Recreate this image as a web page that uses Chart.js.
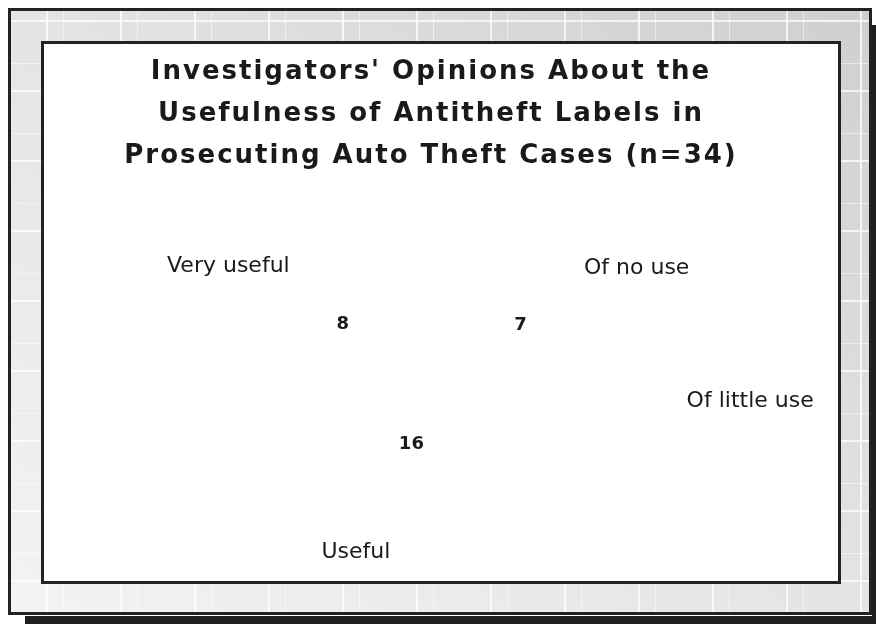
<!DOCTYPE html>
<html>
<head>
<meta charset="utf-8">
<script src="https://cdn.jsdelivr.net/npm/chart.js@4/dist/chart.umd.min.js"></script>
<style>
  html, body { margin: 0; padding: 0; background: #ffffff; }
  body { width: 876px; height: 624px; position: relative; overflow: hidden; }
  .shadowR { position: absolute; left: 872px; top: 25px; width: 4px; height: 599px; background: #1e1e1e; }
  .shadowB { position: absolute; left: 25px; top: 616px; width: 851px; height: 8px; background: #1e1e1e; }
  .frame {
    position: absolute; left: 8px; top: 8px; width: 858px; height: 601px;
    border: 3px solid #222;
    background:
      repeating-linear-gradient(90deg, rgba(255,255,255,0) 0 35px, rgba(255,255,255,0.75) 35px 37px, rgba(255,255,255,0) 37px 52px, rgba(255,255,255,0.5) 52px 53px, rgba(255,255,255,0) 53px 74px),
      repeating-linear-gradient(0deg, rgba(255,255,255,0) 0 30px, rgba(255,255,255,0.75) 30px 32px, rgba(255,255,255,0) 32px 58px, rgba(255,255,255,0.5) 58px 59px, rgba(255,255,255,0) 59px 70px),
      linear-gradient(to top right, #f3f3f3 0%, #e4e4e4 50%, #cfcfcf 100%);
  }
  .inner {
    position: absolute; left: 41px; top: 41px; width: 794px; height: 537px;
    border: 3px solid #222; background: #ffffff;
  }
  canvas { display: block; }
</style>
</head>
<body>
<div class="shadowR"></div>
<div class="shadowB"></div>
<div class="frame"></div>
<div class="inner"><canvas id="c" width="794" height="537"></canvas></div>
<script>
// ---- data ----
const titleLines = [
  "Investigators' Opinions About the",
  "Usefulness of Antitheft Labels in",
  "Prosecuting Auto Theft Cases (n=34)"
];
const categories = ["Of no use", "Of little use", "Useful", "Very useful"];
const counts = [7, 3, 16, 8];
const valueShown = [true, false, true, true];

// ---- label placement styles (relative to slice geometry) ----
const catRadiusX = 1.70, catRadiusY = 0.87;
const valRadiusX = 0.74, valRadiusY = 0.47;
const valRadiusScale = [1, 1, 0.6, 1];
const inkColor = '#1a1a1a';

const sliceLabels = {
  id: 'sliceLabels',
  beforeDraw(chart) { chart.ctx.letterSpacing = '2px'; },
  afterDatasetsDraw(chart) {
    const ctx = chart.ctx;
    ctx.save();
    ctx.letterSpacing = '0px';
    ctx.fillStyle = inkColor;
    ctx.textAlign = 'center';
    ctx.textBaseline = 'middle';
    const meta = chart.getDatasetMeta(0);
    meta.data.forEach((arc, i) => {
      const p = arc.getProps(['x', 'y', 'startAngle', 'endAngle', 'outerRadius'], true);
      const mid = (p.startAngle + p.endAngle) / 2;
      const R = p.outerRadius;
      ctx.font = '22px "DejaVu Sans"';
      ctx.fillText(categories[i], p.x + Math.cos(mid) * R * catRadiusX, p.y + Math.sin(mid) * R * catRadiusY);
      if (valueShown[i]) {
        const k = valRadiusScale[i];
        ctx.font = 'bold 18px "DejaVu Sans"';
        ctx.fillText(String(counts[i]), p.x + Math.cos(mid) * R * valRadiusX * k, p.y + Math.sin(mid) * R * valRadiusY * k);
      }
    });
    ctx.restore();
  },
  afterDraw(chart) { chart.ctx.letterSpacing = '0px'; }
};

new Chart(document.getElementById('c'), {
  type: 'pie',
  data: {
    labels: categories,
    datasets: [{
      data: counts,
      backgroundColor: '#ffffff',
      borderWidth: 0
    }]
  },
  options: {
    responsive: false,
    animation: false,
    rotation: 3,
    layout: { padding: { left: 0, right: 20, top: 0, bottom: 0 } },
    plugins: {
      legend: { display: false },
      tooltip: { enabled: false },
      title: {
        display: true,
        text: titleLines,
        color: inkColor,
        font: { family: '"DejaVu Sans"', size: 26, weight: 'bold', lineHeight: '42px' },
        padding: { top: 7, bottom: 28 }
      }
    }
  },
  plugins: [sliceLabels]
});
</script>
</body>
</html>
